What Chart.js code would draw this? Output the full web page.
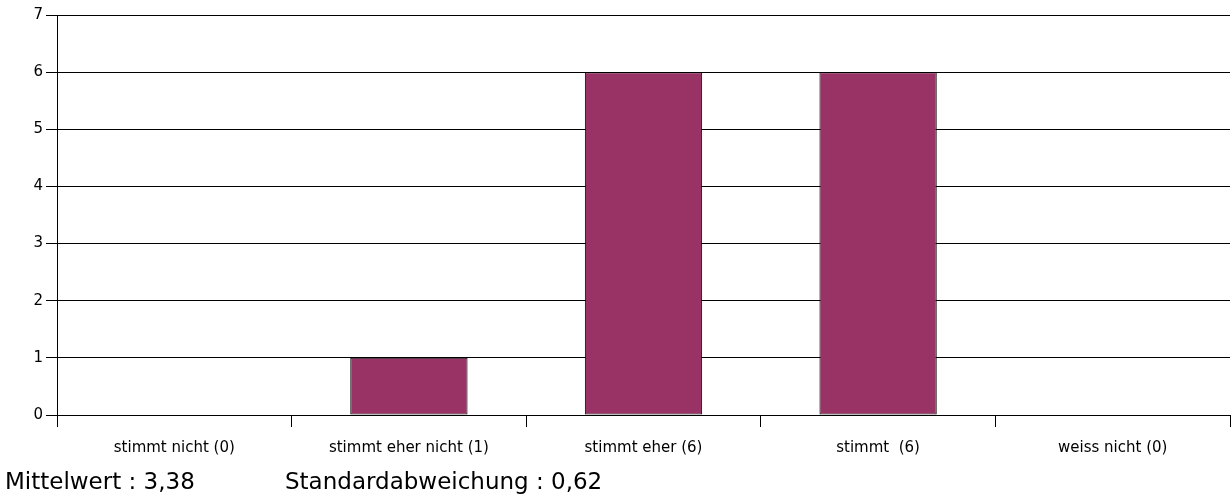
<!DOCTYPE html>
<html>
<head>
<meta charset="utf-8">
<script src="https://cdn.jsdelivr.net/npm/chart.js@4"></script>
<style>
  html, body { margin: 0; padding: 0; background: #fff; }
  #wrap { position: relative; width: 1232px; height: 503px; }
  #stats { position: absolute; left: 5px; top: 468px; font-family: "DejaVu Sans", sans-serif; font-size: 23px; color: #000; }
  #stats span { position: absolute; white-space: nowrap; }
</style>
</head>
<body>
<div id="wrap">
  <canvas id="chart" width="1232" height="503"></canvas>
  <div id="stats">
    <span style="left:0">Mittelwert : 3,38</span>
    <span style="left:280px">Standardabweichung : 0,62</span>
  </div>
</div>
<script>
const categories = ['stimmt nicht (0)', 'stimmt eher nicht (1)', 'stimmt eher (6)', 'stimmt  (6)', 'weiss nicht (0)'];
const counts = [0, 1, 6, 6, 0];
const yTicks = [0, 1, 2, 3, 4, 5, 6, 7];

const ctx = document.getElementById('chart').getContext('2d');
new Chart(ctx, {
  type: 'bar',
  data: {
    labels: categories,
    datasets: [{
      data: counts,
      backgroundColor: '#993366',
      borderColor: '#000000',
      borderWidth: 1,
      borderSkipped: false,
      categoryPercentage: 1,
      barPercentage: 0.5,
    }],
  },
  options: {
    responsive: false,
    animation: false,
    layout: { padding: { top: 15, right: 2, left: 0, bottom: 0 } },
    plugins: { legend: { display: false }, tooltip: { enabled: false } },
    scales: {
      x: {
        grid: { offset: true, drawOnChartArea: false, color: '#000', tickLength: 12 },
        border: { color: '#000', width: 1 },
        ticks: { color: '#000', font: { family: 'DejaVu Sans', size: 15 }, padding: 12, maxRotation: 0 },
        afterFit: (s) => { s.height = 88; },
      },
      y: {
        min: 0,
        max: 7,
        afterBuildTicks: (s) => { s.ticks = yTicks.map(v => ({ value: v })); },
        grid: { color: '#000', tickLength: 11 },
        border: { color: '#000', width: 1 },
        ticks: { color: '#000', font: { family: 'DejaVu Sans', size: 15 }, padding: 3 },
        afterFit: (s) => { s.width = 57; },
      },
    },
  },
});
</script>
</body>
</html>
